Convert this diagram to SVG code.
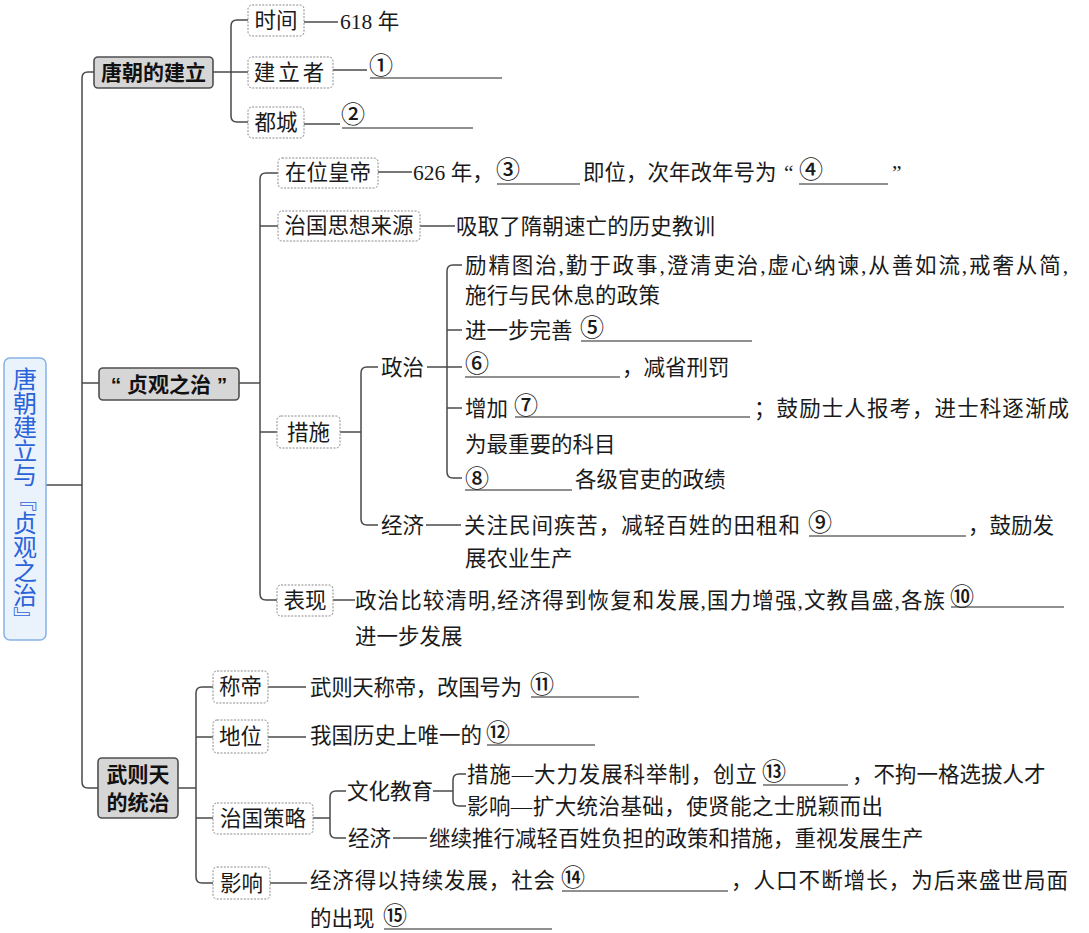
<svg xmlns="http://www.w3.org/2000/svg" width="1089" height="933" viewBox="0 0 1089 933">
<style>
.t{font-family:"Liberation Serif","Noto Sans CJK SC",serif;font-size:21.5px;fill:#1a1a1a}
.n{font-family:"Noto Sans CJK SC",sans-serif;font-size:24px;font-weight:500;fill:#1a1a1a}
.b1{fill:#d6d6d6;stroke:#4f4f4f;stroke-width:1.6}
.b2{fill:#ffffff;stroke:#8a8a8a;stroke-width:1;stroke-dasharray:2 1.4}
.l1{font-family:"Liberation Sans","Noto Sans CJK SC",sans-serif;font-weight:700;font-size:21px;fill:#111;text-anchor:middle}
.l2{font-family:"Liberation Serif","Noto Sans CJK SC",serif;font-size:21.5px;fill:#1a1a1a;text-anchor:middle}
.c{fill:none;stroke:#4a4a4a;stroke-width:1.5}
.u{stroke:#222;stroke-width:1.2}
.rt{font-family:"Noto Sans CJK SC",sans-serif;font-size:24px;fill:#2b63d9;writing-mode:vertical-rl;text-anchor:middle;font-feature-settings:"vert" 1}
</style>
<rect width="1089" height="933" fill="#ffffff"/>

<g id="connectors">
  <path class="c" d="M46 485H82"/>
  <path class="c" d="M94 72H88Q82 72 82 78V782Q82 788 88 788H98"/>
  <path class="c" d="M82 383H99"/>
  <path class="c" d="M213 72H248"/>
  <path class="c" d="M248 20H237Q231 20 231 26V116Q231 122 237 122H248"/>
  <path class="c" d="M304 22H338"/>
  <path class="c" d="M333 70H367"/>
  <path class="c" d="M304 124H340"/>
  <path class="c" d="M239 383H260"/>
  <path class="c" d="M278 173H266Q260 173 260 179V594Q260 600 266 600H277"/>
  <path class="c" d="M260 226H278"/>
  <path class="c" d="M260 432H277"/>
  <path class="c" d="M378 172H412"/>
  <path class="c" d="M420 226H455"/>
  <path class="c" d="M340 432H361"/>
  <path class="c" d="M378 367H367Q361 367 361 373V519Q361 525 367 525H378"/>
  <path class="c" d="M427 367H462"/>
  <path class="c" d="M462 265H453Q447 265 447 271V472Q447 478 453 478H462"/>
  <path class="c" d="M447 330H462"/>
  <path class="c" d="M447 408H462"/>
  <path class="c" d="M426 525H461"/>
  <path class="c" d="M333 600H355"/>
  <path class="c" d="M178 788H196"/>
  <path class="c" d="M213 687H202Q196 687 196 693V877Q196 883 202 883H213"/>
  <path class="c" d="M196 737H213"/>
  <path class="c" d="M196 818H213"/>
  <path class="c" d="M268 687H306"/>
  <path class="c" d="M268 737H306"/>
  <path class="c" d="M313 818H330"/>
  <path class="c" d="M346 791H336Q330 791 330 797V832Q330 838 336 838H346"/>
  <path class="c" d="M433 791H453"/>
  <path class="c" d="M466 774H459Q453 774 453 780V800Q453 806 459 806H466"/>
  <path class="c" d="M393 838H427"/>
  <path class="c" d="M270 883H307"/>
</g>

<g id="root">
  <rect x="4" y="358" width="42" height="282" rx="6" fill="#eaf2fc" stroke="#86b3e6" stroke-width="1.5"/>
  <text class="rt" x="25" y="499">唐朝建立与『贞观之治』</text>
</g>

<g id="n-tangchao">
  <rect class="b1" x="94" y="57" width="119" height="31" rx="4"/>
  <text class="l1" x="153.5" y="80">唐朝的建立</text>
</g>
<g id="n-shijian">
  <rect class="b2" x="248" y="5" width="56" height="31" rx="4"/>
  <text class="l2" x="276" y="28">时间</text>
  <text class="t" x="340" y="29">618 年</text>
</g>
<g id="n-jianlizhe">
  <rect class="b2" x="248" y="57" width="85" height="31" rx="4"/>
  <text class="l2" x="290.5" y="80" letter-spacing="3">建立者</text>
  <text class="n" x="369" y="74">①</text>
  <line class="u" x1="370" y1="78" x2="502" y2="78"/>
</g>
<g id="n-ducheng">
  <rect class="b2" x="248" y="107" width="56" height="31" rx="4"/>
  <text class="l2" x="276" y="130">都城</text>
  <text class="n" x="341" y="123">②</text>
  <line class="u" x1="342" y1="128" x2="473" y2="128"/>
</g>

<g id="n-zhenguan">
  <rect class="b1" x="99" y="368" width="140" height="32" rx="4"/>
  <text class="l1" x="169" y="392" xml:space="preserve">“ 贞观之治 ”</text>
</g>
<g id="n-zaiwei">
  <rect class="b2" x="278" y="158" width="100" height="30" rx="4"/>
  <text class="l2" x="328" y="180">在位皇帝</text>
  <text class="t" x="413" y="180">626 年，</text>
  <text class="n" x="496" y="178">③</text>
  <line class="u" x1="497" y1="184" x2="580" y2="184"/>
  <text class="t" x="583" y="180">即位，次年改年号为</text>
  <text class="t" x="784" y="180">“</text>
  <text class="n" x="799" y="178">④</text>
  <line class="u" x1="799" y1="184" x2="888" y2="184"/>
  <text class="t" x="892" y="180">”</text>
</g>
<g id="n-sixiang">
  <rect class="b2" x="278" y="211" width="142" height="30" rx="4"/>
  <text class="l2" x="349" y="233">治国思想来源</text>
  <text class="t" x="456" y="234" textLength="259">吸取了隋朝速亡的历史教训</text>
</g>
<g id="n-cuoshi">
  <rect class="b2" x="277" y="416" width="63" height="32" rx="4"/>
  <text class="l2" x="308.5" y="440">措施</text>
</g>
<g id="n-zhengzhi">
  <text class="t" x="381" y="375">政治</text>
  <text class="t" x="465" y="273" textLength="603">励精图治,勤于政事,澄清吏治,虚心纳谏,从善如流,戒奢从简,</text>
  <text class="t" x="465" y="303" textLength="195">施行与民休息的政策</text>
  <text class="t" x="465" y="338">进一步完善</text>
  <text class="n" x="580" y="336">⑤</text>
  <line class="u" x1="581" y1="341" x2="752" y2="341"/>
  <text class="n" x="465" y="372">⑥</text>
  <line class="u" x1="465" y1="377" x2="620" y2="377"/>
  <text class="t" x="622" y="375">，减省刑罚</text>
  <text class="t" x="465" y="416">增加</text>
  <text class="n" x="514" y="414">⑦</text>
  <line class="u" x1="515" y1="417" x2="750" y2="417"/>
  <text class="t" x="754" y="416" textLength="315">；鼓励士人报考，进士科逐渐成</text>
  <text class="t" x="465" y="452">为最重要的科目</text>
  <text class="n" x="465" y="487">⑧</text>
  <line class="u" x1="465" y1="490" x2="572" y2="490"/>
  <text class="t" x="575" y="487">各级官吏的政绩</text>
</g>
<g id="n-jingji1">
  <text class="t" x="381" y="533">经济</text>
  <text class="t" x="464" y="533" textLength="336">关注民间疾苦，减轻百姓的田租和</text>
  <text class="n" x="808" y="531">⑨</text>
  <line class="u" x1="809" y1="536" x2="966" y2="536"/>
  <text class="t" x="968" y="533">，鼓励发</text>
  <text class="t" x="465" y="566">展农业生产</text>
</g>
<g id="n-biaoxian">
  <rect class="b2" x="277" y="585" width="56" height="31" rx="4"/>
  <text class="l2" x="305" y="608">表现</text>
  <text class="t" x="355" y="608" textLength="590">政治比较清明,经济得到恢复和发展,国力增强,文教昌盛,各族</text>
  <text class="n" x="950" y="605">⑩</text>
  <line class="u" x1="951" y1="607" x2="1064" y2="607"/>
  <text class="t" x="355" y="644">进一步发展</text>
</g>

<g id="n-wuzetian">
  <rect class="b1" x="98" y="758" width="80" height="60" rx="4"/>
  <text class="l1" x="138" y="782">武则天</text>
  <text class="l1" x="138" y="810">的统治</text>
</g>
<g id="n-chengdi">
  <rect class="b2" x="213" y="671" width="55" height="32" rx="4"/>
  <text class="l2" x="240.5" y="694">称帝</text>
  <text class="t" x="310" y="695" textLength="212">武则天称帝，改国号为</text>
  <text class="n" x="530" y="693">⑪</text>
  <line class="u" x1="531" y1="697" x2="639" y2="697"/>
</g>
<g id="n-diwei">
  <rect class="b2" x="213" y="720" width="55" height="33" rx="4"/>
  <text class="l2" x="240.5" y="744">地位</text>
  <text class="t" x="310" y="743">我国历史上唯一的</text>
  <text class="n" x="486" y="741">⑫</text>
  <line class="u" x1="487" y1="745" x2="595" y2="745"/>
</g>
<g id="n-celue">
  <rect class="b2" x="213" y="803" width="100" height="31" rx="4"/>
  <text class="l2" x="263" y="826">治国策略</text>
  <text class="t" x="347" y="799">文化教育</text>
  <text class="t" x="467" y="782" textLength="290">措施—大力发展科举制，创立</text>
  <text class="n" x="762" y="780">⑬</text>
  <line class="u" x1="763" y1="785" x2="848" y2="785"/>
  <text class="t" x="852" y="782">，不拘一格选拔人才</text>
  <text class="t" x="467" y="814" textLength="416">影响—扩大统治基础，使贤能之士脱颖而出</text>
  <text class="t" x="348" y="846">经济</text>
  <text class="t" x="429" y="846">继续推行减轻百姓负担的政策和措施，重视发展生产</text>
</g>
<g id="n-yingxiang">
  <rect class="b2" x="213" y="867" width="57" height="32" rx="4"/>
  <text class="l2" x="241.5" y="891">影响</text>
  <text class="t" x="310" y="888" textLength="245">经济得以持续发展，社会</text>
  <text class="n" x="561" y="886">⑭</text>
  <line class="u" x1="562" y1="891" x2="728" y2="891"/>
  <text class="t" x="731" y="888" textLength="337">，人口不断增长，为后来盛世局面</text>
  <text class="t" x="310" y="926">的出现</text>
  <text class="n" x="383" y="924">⑮</text>
  <line class="u" x1="384" y1="929" x2="552" y2="929"/>
</g>
</svg>
